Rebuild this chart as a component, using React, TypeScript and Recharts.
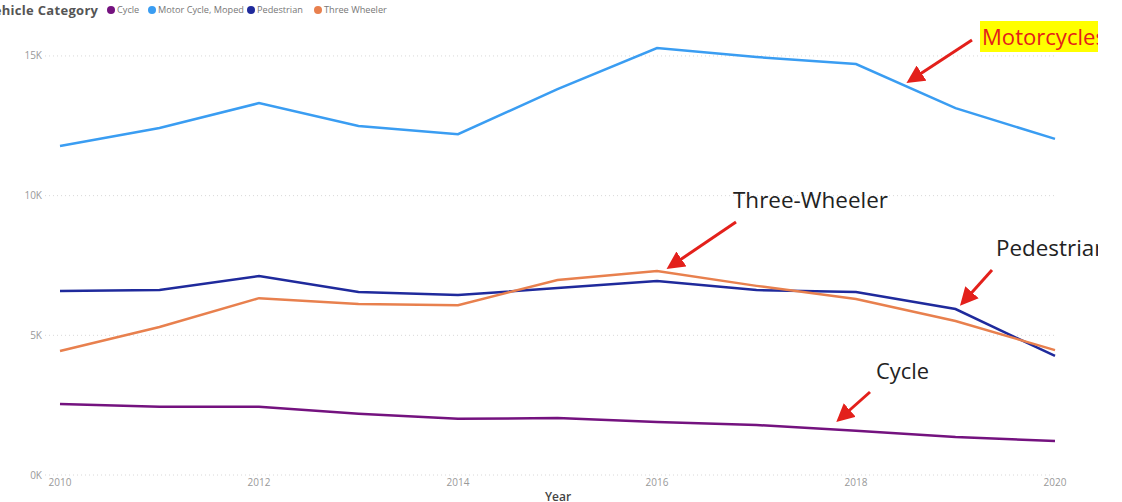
import { LineChart, Line, XAxis, YAxis, CartesianGrid } from "recharts";

const years = [2010, 2011, 2012, 2013, 2014, 2015, 2016, 2017, 2018, 2019, 2020];
const cycle = [2540, 2440, 2440, 2190, 2010, 2040, 1900, 1790, 1580, 1360, 1220];
const motorCycle = [11780, 12420, 13310, 12490, 12200, 13810, 15280, 14960, 14710, 13130, 12030];
const pedestrian = [6590, 6620, 7120, 6550, 6440, 6690, 6940, 6620, 6550, 5940, 4260];
const threeWheeler = [4440, 5300, 6330, 6120, 6080, 6980, 7300, 6770, 6300, 5510, 4470];
const yTicks = [0, 5000, 10000, 15000];
const xTicks = [2010, 2012, 2014, 2016, 2018, 2020];

const series = [
    { key: "cycle", name: "Cycle", color: "#74127F", left: 111 },
    { key: "motorCycle", name: "Motor Cycle, Moped", color: "#3A9DF2", left: 152 },
    { key: "pedestrian", name: "Pedestrian", color: "#1F2A9C", left: 251 },
    { key: "threeWheeler", name: "Three Wheeler", color: "#E8804E", left: 318 },
];

const data = years.map((year, i) => ({
    year,
    cycle: cycle[i],
    motorCycle: motorCycle[i],
    pedestrian: pedestrian[i],
    threeWheeler: threeWheeler[i],
}));

function LegendRow() {
    const font = "'Open Sans', sans-serif";
    return (
        <div style={{ position: "absolute", left: 0, top: 0, width: 500, height: 22, fontFamily: font, whiteSpace: "nowrap" }}>
            <span style={{ position: "absolute", left: -15, top: 1, fontSize: 13, fontWeight: 700, color: "#555", letterSpacing: 0.3 }}>
                Vehicle Category
            </span>
            {series.map((s) => (
                <span
                    key={s.key}
                    style={{ position: "absolute", left: s.left - 4, top: 3, display: "flex", alignItems: "center", fontSize: 9.2, color: "#777" }}
                >
                    <span style={{ width: 8, height: 8, borderRadius: "50%", background: s.color, marginRight: 2 }} />
                    {s.name}
                </span>
            ))}
        </div>
    );
}

function Annotations() {
    const red = "#E3201B";
    const font = "'Open Sans', 'Noto Sans', sans-serif";
    const fit = "spacingAndGlyphs";
    return (
        <svg width={1122} height={502} style={{ position: "absolute", left: 0, top: 0, pointerEvents: "none" }}>
            <defs>
                <marker id="head" markerWidth="6" markerHeight="6" refX="3" refY="3" orient="auto" markerUnits="strokeWidth">
                    <path d="M0,0 L6,3 L0,6 z" fill={red} />
                </marker>
                <clipPath id="cut">
                    <rect x={0} y={0} width={1098} height={502} />
                </clipPath>
            </defs>
            <g clipPath="url(#cut)">
                {/* Motorcycles */}
                <rect x={980} y={21} width={130} height={31} fill="#FFFF00" />
                <text x={982} y={45} fill={red} fontFamily={font} fontSize={21} textLength={124} lengthAdjust={fit}>
                    Motorcycles
                </text>
                <line x1={972} y1={40} x2={914} y2={78} stroke={red} strokeWidth={3} markerEnd="url(#head)" />

                {/* Three-Wheeler */}
                <text x={733} y={208} fill="#222" fontFamily={font} fontSize={21} textLength={155} lengthAdjust={fit}>
                    Three-Wheeler
                </text>
                <line x1={736} y1={222} x2={674} y2={264} stroke={red} strokeWidth={3} markerEnd="url(#head)" />

                {/* Pedestrian */}
                <text x={996} y={256} fill="#222" fontFamily={font} fontSize={21} textLength={112} lengthAdjust={fit}>
                    Pedestrian
                </text>
                <line x1={992} y1={270} x2={966} y2={299} stroke={red} strokeWidth={3} markerEnd="url(#head)" />

                {/* Cycle */}
                <text x={876} y={379} fill="#222" fontFamily={font} fontSize={21} textLength={53} lengthAdjust={fit}>
                    Cycle
                </text>
                <line x1={870} y1={392} x2={843} y2={416} stroke={red} strokeWidth={3} markerEnd="url(#head)" />
            </g>
            <text x={545} y={501} fill="#444" fontFamily={font} fontSize={12} fontWeight={600}>
                Year
            </text>
        </svg>
    );
}

export default function App() {
    return (
        <div style={{ position: "absolute", left: 0, top: 0, width: 1122, height: 502, background: "#fff", overflow: "hidden" }}>
            <LineChart width={1122} height={502} data={data} margin={{ top: 28, right: 67, bottom: 7, left: 0 }}>
                <CartesianGrid vertical={false} horizontalValues={yTicks} stroke="#D8D8D8" strokeDasharray="1 3" />
                <XAxis
                    dataKey="year"
                    type="number"
                    domain={[2010, 2020]}
                    ticks={xTicks}
                    padding={{ left: 15, right: 0 }}
                    axisLine={false}
                    tickLine={false}
                    tickSize={0}
                    tickMargin={4}
                    height={20}
                    tick={{ fill: "#999", fontSize: 10, fontFamily: "'Open Sans', sans-serif" }}
                />
                <YAxis
                    domain={[0, 16000]}
                    ticks={yTicks}
                    axisLine={false}
                    tickLine={false}
                    tickSize={0}
                    tickMargin={3}
                    width={45}
                    tickFormatter={(v: number) => `${v / 1000}K`}
                    tick={{ fill: "#999", fontSize: 10, fontFamily: "'Open Sans', sans-serif" }}
                />
                {series.map((s) => (
                    <Line
                        key={s.key}
                        type="linear"
                        dataKey={s.key}
                        name={s.name}
                        stroke={s.color}
                        strokeWidth={2.5}
                        dot={false}
                        isAnimationActive={false}
                    />
                ))}
            </LineChart>
            <LegendRow />
            <Annotations />
        </div>
    );
}
